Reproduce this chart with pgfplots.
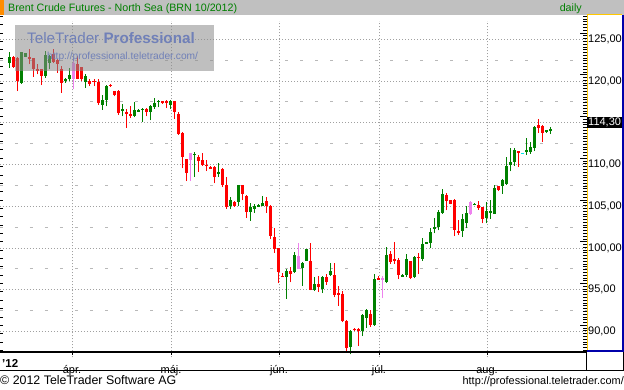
\documentclass[border=0pt]{standalone}
\usepackage{fontspec}
\setmainfont{Liberation Sans}
\usepackage{pgfplots}
\pgfplotsset{compat=1.18}
\usepackage{pgfplotstable}
\definecolor{cG}{RGB}{0,128,0}
\definecolor{cR}{RGB}{255,0,0}
\definecolor{cP}{RGB}{238,130,238}
\definecolor{cC}{RGB}{0,230,230}
\definecolor{hdr}{RGB}{192,192,192}
\definecolor{orng}{RGB}{255,140,0}
\definecolor{hdrgreen}{RGB}{0,128,0}
\definecolor{dotgray}{RGB}{160,160,160}
\definecolor{dashgray}{RGB}{185,185,185}
\definecolor{yel}{RGB}{255,200,0}
\definecolor{blu}{RGB}{0,0,170}
\definecolor{wmgray}{RGB}{140,140,140}
\definecolor{wmblue}{RGB}{112,128,184}

% x = horizontal position, o h l c = open high low close
\pgfplotstableread{
x o h l c
10 122.2 123.5 121.6 122.9
22 119.8 123.5 119.7 123.45
26 122.9 123.35 122.85 123.3
46 120.6 123.6 120.4 123.1
50 122.2 123.1 121.4 123.0
66 120.0 120.4 119.8 120.2
70 120.2 121.6 120.0 120.7
86 119.9 120.8 119.2 120.6
102 117.17 118.37 116.56 117.77
106 117.77 119.58 116.97 119.46
122 116.36 117.24 115.76 116.68
134 115.76 117.48 115.64 116.56
138 116.36 116.6 116.3 116.56
142 116.52 116.76 115.08 116.68
150 116.28 117.16 115.28 116.96
154 116.84 117.97 116.68 117.36
158 117.48 117.77 116.84 117.65
170 117.16 117.77 116.68 117.57
194 111.14 111.46 108.53 111.3
218 108.93 110.2 108.5 109.13
230 105.0 106.1 104.64 105.8
238 105.52 107.55 105.0 107.5
250 104.33 105.4 103.25 104.92
254 104.64 105.32 104.25 105.04
258 104.92 105.32 104.9 105.12
262 105.04 106.2 105.0 105.44
286 96.59 97.5 93.9 97.3
294 97.1 99.56 96.98 99.17
302 97.66 98.37 95.5 98.17
306 98.5 99.9 98.5 99.84
314 94.92 96.47 94.9 95.75
322 95.08 96.59 94.6 96.59
330 96.71 98.17 96.7 97.3
350 88.13 90.24 87.26 90.12
362 90.04 92.1 89.44 91.94
366 91.63 92.74 90.44 92.62
374 90.83 96.87 90.7 96.31
386 95.9 100.16 95.8 99.17
402 96.6 96.9 96.5 96.75
406 96.75 99.29 96.5 98.69
414 96.51 99.05 96.35 98.97
422 98.65 101.23 98.49 100.48
426 100.56 100.75 100.5 100.67
430 100.56 102.42 99.96 101.94
434 102.22 103.65 101.75 102.54
438 102.46 104.52 102.1 104.33
442 104.25 107.1 104.13 106.43
462 102.06 104.13 101.35 103.45
466 103.05 105.04 102.34 104.21
474 105.2 105.35 105.1 105.3
486 103.6 105.5 102.94 104.45
490 104.25 105.7 103.5 104.45
494 104.13 107.5 104.1 107.18
502 107.38 108.29 106.5 108.14
506 107.7 110.88 107.6 109.88
510 110.0 111.93 109.17 110.28
514 110.36 111.93 109.88 111.73
526 111.5 113.15 111.2 111.7
530 111.5 112.72 111.3 112.12
534 111.93 114.56 111.6 114.44
546 113.88 114.15 113.75 114.08
550 113.96 114.44 113.63 114.3
}\tblG

\pgfplotstableread{
x o h l c
14 122.9 123.0 121.6 121.7
18 122.8 122.9 118.8 120.0
30 122.9 123.8 122.0 122.7
34 122.7 122.7 120.5 121.4
38 121.5 122.0 120.8 121.2
42 121.4 121.4 119.5 120.6
54 123.2 123.8 122.1 122.3
58 122.5 122.6 121.0 122.0
62 121.4 121.8 118.6 119.8
78 122.0 123.0 120.2 120.2
82 121.7 121.7 120.06 120.2
90 120.0 120.2 119.4 119.6
94 120.06 120.2 119.4 119.9
98 119.9 120.2 117.17 117.37
110 119.58 119.6 119.3 119.38
114 118.77 118.8 118.17 118.37
118 118.77 118.97 115.96 116.16
126 116.28 116.68 114.43 116.04
130 116.04 116.96 115.56 115.88
146 116.68 116.76 115.76 116.28
162 117.57 117.6 117.3 117.36
166 117.65 117.7 116.76 117.36
174 117.57 117.65 115.48 116.28
178 116.04 116.28 113.55 113.63
182 113.75 113.95 109.53 110.94
186 110.62 110.7 108.0 109.01
198 110.94 111.14 109.13 110.42
202 110.54 111.4 109.85 109.93
206 110.0 110.54 109.2 109.85
210 109.73 109.8 109.5 109.53
214 109.73 109.8 107.73 108.53
222 109.45 109.6 107.3 107.6
226 107.5 108.5 104.7 104.95
234 105.52 105.6 104.95 105.0
242 107.5 107.55 105.7 106.5
246 106.27 106.4 103.6 104.33
266 105.6 106.1 104.25 105.04
270 105.04 105.1 101.07 101.47
274 101.35 102.34 99.45 99.84
278 99.96 100.0 95.8 97.1
282 96.7 96.98 96.5 96.6
290 97.3 97.78 95.9 96.87
310 98.5 100.56 94.92 94.92
318 95.75 96.7 94.72 95.32
326 96.59 96.87 95.6 95.99
334 96.71 98.17 94.1 94.33
338 94.6 95.5 93.1 94.48
342 94.48 94.8 91.1 91.23
346 91.23 91.43 87.46 88.06
354 90.36 90.4 90.1 90.2
358 90.36 90.4 88.25 90.12
370 92.1 92.62 90.6 90.83
378 96.39 96.6 96.2 96.3
390 99.29 99.7 98.1 98.37
394 98.65 100.75 98.1 98.5
398 98.57 98.8 96.27 96.75
410 98.49 98.5 96.3 96.35
418 98.97 99.45 96.9 98.77
446 106.31 106.6 104.5 105.63
450 105.71 105.8 105.24 105.32
454 105.71 105.87 101.43 102.14
458 102.0 103.33 101.55 101.9
478 105.2 105.6 104.6 104.8
482 104.95 104.95 102.94 103.53
498 107.38 107.4 106.8 106.94
518 111.6 111.65 109.7 111.5
538 114.68 115.48 113.75 114.36
542 114.56 114.76 112.72 113.75
}\tblR

\pgfplotstableread{
x o h l c
74 122.2 122.8 119.0 120.3
190 111.34 111.4 108.0 110.54
298 99.09 100.6 97.46 97.46
382 96.35 96.6 94.0 96.3
470 105.5 105.6 104.0 104.1
}\tblP

\pgfplotstableread{
x o h l c
522 111.34 111.36 111.32 111.34
}\tblC

\pgfplotsset{
  wick/.style={draw=none, forget plot, error bars/.cd, y dir=plus, y explicit, error mark=none,
    error bar style={draw=#1, line width=1pt, line cap=butt}},
  body/.style={draw=none, forget plot, error bars/.cd, y dir=both, y explicit, error mark=none,
    error bar style={draw=#1, line width=3pt, line cap=butt}},
}

\begin{document}
\begin{tikzpicture}[x=1pt,y=1pt]
\useasboundingbox (0,0) rectangle (624,389);
\fill[white] (0,0) rectangle (624,389);
% header
\fill[hdr] (0,374) rectangle (624,389);
\fill[orng] (0,374) rectangle (4,389);
\node[anchor=base west, text=hdrgreen, font=\fontsize{10.7}{12}\selectfont, inner sep=0pt] at (8,377.8) {Brent Crude Futures - North Sea (BRN 10/2012)};
\node[anchor=base east, text=hdrgreen, font=\fontsize{10.7}{12}\selectfont, inner sep=0pt] at (582,377.8) {daily};

\begin{axis}[
  at={(0,38)}, anchor=south west, scale only axis,
  width=587pt, height=336pt,
  xmin=0, xmax=587, ymin=86.916, ymax=127.156,
  axis line style={draw=none},
  major tick length=0pt, minor tick length=0pt,
  xtick={72,171,279,379,487},
  xticklabels={ápr.,máj.,jún.,júl.,aug.},
  ytick={90,95,100,105,110,115,120,125},
  yticklabels={{90,00},{95,00},{100,00},{105,00},{110,00},{115,00},{120,00},{125,00}},
  yticklabel pos=right,
  xmajorgrids, ymajorgrids,
  major grid style={draw=dotgray, line width=0.8pt, dash pattern=on 1pt off 2pt},
  extra y ticks={87.5,92.5,97.5,102.5,107.5,112.5,117.5,122.5},
  extra y tick labels={},
  extra y tick style={grid=major, major grid style={draw=dashgray, line width=0.8pt, dash pattern=on 3pt off 12pt}},
  tick label style={font=\fontsize{11}{11}\selectfont},
  x tick label style={anchor=base, yshift=-16pt, inner sep=0pt},
  y tick label style={anchor=west, inner sep=0pt, xshift=1pt},
]
\addplot[wick=cG] table[x=x, y=l, y error expr=\thisrow{h}-\thisrow{l}] {\tblG};
\addplot[body=cG] table[x=x, y expr=(\thisrow{o}+\thisrow{c})/2, y error expr={max(abs(\thisrow{c}-\thisrow{o})/2,0.06)}] {\tblG};
\addplot[wick=cR] table[x=x, y=l, y error expr=\thisrow{h}-\thisrow{l}] {\tblR};
\addplot[body=cR] table[x=x, y expr=(\thisrow{o}+\thisrow{c})/2, y error expr={max(abs(\thisrow{c}-\thisrow{o})/2,0.06)}] {\tblR};
\addplot[wick=cP] table[x=x, y=l, y error expr=\thisrow{h}-\thisrow{l}] {\tblP};
\addplot[body=cP] table[x=x, y expr=(\thisrow{o}+\thisrow{c})/2, y error expr={max(abs(\thisrow{c}-\thisrow{o})/2,0.06)}] {\tblP};
\addplot[wick=cC] table[x=x, y=l, y error expr=\thisrow{h}-\thisrow{l}] {\tblC};
\addplot[body=cC] table[x=x, y expr=(\thisrow{o}+\thisrow{c})/2, y error expr={max(abs(\thisrow{c}-\thisrow{o})/2,0.06)}] {\tblC};
\end{axis}

% watermark
\fill[wmgray, opacity=0.55] (15,318) rectangle (214,364);
\node[anchor=base west, text=wmblue, font=\fontsize{15.2}{15}\selectfont, inner sep=0pt] at (27,345.5) {TeleTrader \textbf{Professional}};
\node[anchor=base west, text=wmblue, font=\fontsize{10.2}{10}\selectfont, inner sep=0pt] at (47,329.5) {http://professional.teletrader.com/};

% left ticks
\foreach \i in {0,...,40} {
  \pgfmathsetmacro\yy{38+(87+\i-86.916)*8.35}
  \draw[black, line width=0.8pt] (0,\yy) -- (3,\yy);
}
% right ticks
\foreach \i in {0,...,120} {
  \pgfmathsetmacro\yy{38+(87+\i/3-86.916)*8.35}
  \draw[black, line width=0.8pt] (583,\yy) -- (586.5,\yy);
}
\foreach \p in {90,95,...,125} {
  \pgfmathsetmacro\yy{38+(\p-86.916)*8.35}
  \draw[black, line width=0.8pt] (580,\yy) -- (586.5,\yy);
}
% right axis frame
\draw[yel, line width=1pt] (587,38) -- (587,374) -- (622,374);
\draw[blu, line width=1.5pt] (623,374) -- (623,38.2) -- (587,38.2);
% last price box
\fill[black] (587,260.7) rectangle (622,272.3);
\node[anchor=west, text=white, font=\fontsize{11}{11}\selectfont, inner sep=0pt] at (588,266.5) {114,30};

% x axis line and month marks
\draw[black, line width=2pt] (0,37.3) -- (587,37.3);
\foreach \xx in {72,171,279,379,487} { \draw[black, line width=0.8pt] (\xx,36.5) -- (\xx,34); }
\node[anchor=base west, font=\bfseries\fontsize{11.5}{11}\selectfont, inner sep=0pt] at (2,22) {'12};
\draw[black, line width=1pt] (0,18.3) -- (624,18.3);
\draw[black, line width=1pt] (586,18.3) -- (586,37);
\draw[black, line width=1pt] (623,18.3) -- (623,37);

% footer
\node[anchor=base west, font=\fontsize{12.4}{12}\selectfont, inner sep=0pt] at (0,5) {© 2012 TeleTrader Software AG};
\node[anchor=base east, font=\fontsize{10.9}{11}\selectfont, inner sep=0pt] at (624,5) {http://professional.teletrader.com/};
\end{tikzpicture}
\end{document}
